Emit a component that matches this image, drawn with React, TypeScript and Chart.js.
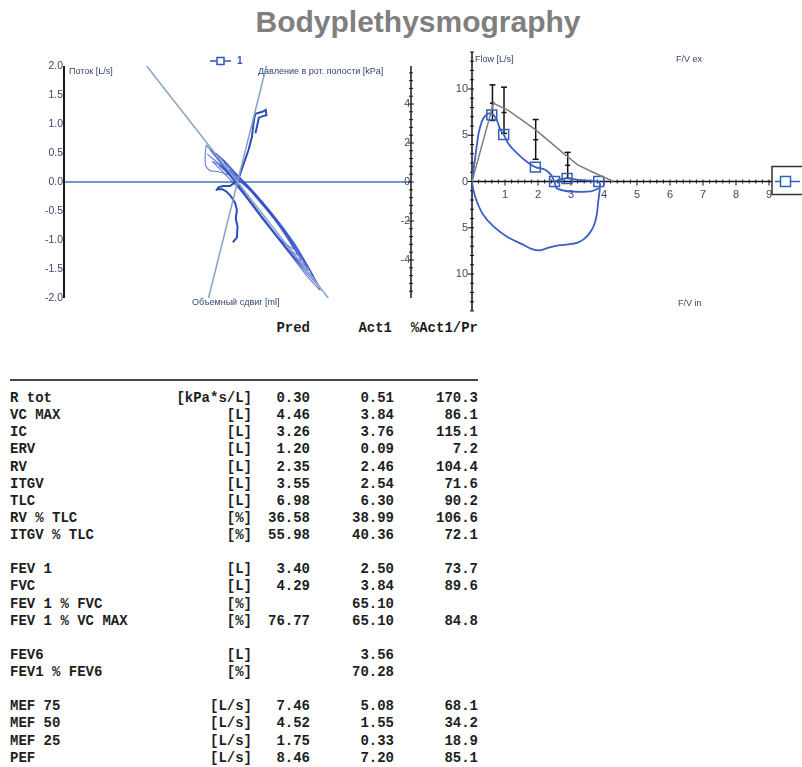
import React, { useEffect, useRef } from 'react';
import { Chart, registerables } from 'chart.js';
Chart.register(...registerables);

// ---------------- Left chart: bodyplethysmography loops ----------------
const flowTicks = [2.0, 1.5, 1.0, 0.5, 0.0, -0.5, -1.0, -1.5, -2.0];
const pressureTicks = [4, 2, 0, -2, -4];
const resistFitX = [-1.57, 1.57];
const resistFitY = [2.0, -2.0];
const shutterFitX = [-0.5, 0.5];
const shutterFitY = [-5.95, 5.95];

// resistance loops: [box shift, flow]
const loop1 = [[-0.54, 0.64], [-0.56, 0.45], [-0.55, 0.28], [-0.48, 0.2], [-0.35, 0.18], [-0.15, 0.12], [0.1, -0.02], [0.5, -0.45], [1.0, -1.08], [1.43, -1.86], [1.2, -1.62], [0.8, -1.1], [0.4, -0.6], [0.1, -0.2], [-0.1, 0.06], [-0.3, 0.34], [-0.54, 0.64]];
const loop2 = [[-0.47, 0.56], [-0.3, 0.42], [-0.1, 0.2], [0.2, -0.08], [0.7, -0.68], [1.2, -1.45], [0.9, -1.22], [0.5, -0.72], [0.15, -0.26], [-0.1, 0.08], [-0.3, 0.34], [-0.47, 0.56]];
const loop3 = [[-0.38, 0.5], [-0.2, 0.34], [0.05, 0.06], [0.45, -0.38], [0.97, -1.15], [0.7, -0.96], [0.35, -0.5], [0.0, -0.04], [-0.2, 0.22], [-0.38, 0.5]];
const loop4 = [[-0.25, 0.38], [0.0, 0.12], [0.35, -0.25], [0.8, -0.8], [1.31, -1.62], [1.0, -1.34], [0.6, -0.84], [0.2, -0.32], [-0.05, 0.02], [-0.25, 0.38]];
const loop5 = [[-0.52, 0.48], [-0.35, 0.34], [-0.1, 0.12], [0.3, -0.22], [0.75, -0.78], [1.1, -1.36], [0.85, -1.14], [0.45, -0.64], [0.1, -0.18], [-0.2, 0.2], [-0.52, 0.48]];
const loop6 = [[-0.32, 0.28], [-0.12, 0.14], [0.2, -0.12], [0.9, -0.98], [1.4, -1.78], [1.1, -1.46], [0.6, -0.82], [0.2, -0.3], [-0.1, 0.08], [-0.32, 0.28]];
const loop7 = [[-0.44, 0.36], [-0.2, 0.22], [0.1, 0.0], [0.6, -0.56], [1.22, -1.52], [0.95, -1.26], [0.5, -0.7], [0.1, -0.2], [-0.2, 0.12], [-0.44, 0.36]];
const loop8 = [[-0.15, 0.22], [0.05, 0.04], [0.4, -0.36], [0.85, -0.9], [1.03, -1.26], [0.75, -1.0], [0.3, -0.44], [0.0, -0.02], [-0.15, 0.22]];

// shutter trace: [box shift, mouth pressure kPa]
const shutterTrace = [[-0.08, -3.09], [-0.01, -2.84], [0.0, -2.29], [-0.03, -1.86], [-0.01, -1.44], [-0.04, -1.09], [-0.07, -0.92], [-0.13, -0.67], [-0.19, -0.5], [-0.26, -0.37], [-0.35, -0.37], [-0.37, -0.45], [-0.33, -0.27], [-0.25, -0.21], [-0.13, -0.21], [0.01, 0.1], [0.07, 0.62], [0.13, 1.13], [0.19, 1.64], [0.25, 2.32], [0.27, 2.84], [0.29, 3.27], [0.31, 3.5], [0.37, 3.55], [0.43, 3.6], [0.49, 3.7], [0.5, 3.42], [0.44, 3.38], [0.37, 3.3], [0.34, 2.9], [0.31, 2.5]];

// ---------------- Right chart: flow / volume ----------------
const volTicks = [1, 2, 3, 4, 5, 6, 7, 8, 9];
const fvFlowTicks = [10, 5, 0, -5, -10];
const predVol = [0, 0.65, 1.1, 1.92, 2.72, 3.2, 3.62, 4.28];
const predFlow = [0, 8.45, 7.7, 5.6, 3.2, 1.8, 1.08, 0];
const expVol = [0, 0.05, 0.1, 0.2, 0.3, 0.4, 0.55, 0.65, 0.75, 0.86, 0.96, 1.1, 1.41, 1.71, 1.92, 2.22, 2.42, 2.5, 2.7, 2.88, 3.22, 3.62, 3.84];
const expFlow = [0, 1.4, 2.7, 5.2, 6.5, 7.1, 7.4, 7.2, 6.65, 5.6, 5.08, 4.1, 2.9, 2.0, 1.55, 1.26, 0.6, 0.02, 0.25, 0.33, 0.18, 0.07, 0];
const closeVol = [2.5, 2.56, 2.8, 3.1, 3.6, 3.85];
const closeFlow = [0.02, -0.7, -1.0, -1.1, -1.07, -0.7];
const inspVol = [3.84, 3.88, 3.86, 3.82, 3.78, 3.7, 3.58, 3.4, 3.2, 2.92, 2.62, 2.32, 2.06, 1.82, 1.55, 1.05, 0.65, 0.34, 0.14, 0.04, 0];
const inspFlow = [0, -0.3, -1.2, -2.3, -3.6, -4.7, -5.5, -6.2, -6.6, -6.8, -6.9, -7.16, -7.45, -7.3, -6.83, -5.94, -4.86, -3.6, -2.1, -0.9, 0];
const markVol = [0.6, 0.96, 1.92, 2.88, 2.5, 3.84];
const markFlow = [7.2, 5.08, 1.55, 0.33, 0.0, 0.0];
const errVol = [0.62, 0.97, 1.93, 2.9];
const errPred = [8.46, 7.46, 4.52, 1.75];
const errLow = [6.6, 5.2, 2.4, 0.35];
const errHigh = [10.45, 10.2, 6.7, 3.15];

// ---------------- Table ----------------
const rowLabels = ['R tot', 'VC MAX', 'IC', 'ERV', 'RV', 'ITGV', 'TLC', 'RV % TLC', 'ITGV % TLC', '', 'FEV 1', 'FVC', 'FEV 1 % FVC', 'FEV 1 % VC MAX', '', 'FEV6', 'FEV1 % FEV6', '', 'MEF 75', 'MEF 50', 'MEF 25', 'PEF'];
const rowUnits = ['[kPa*s/L]', '[L]', '[L]', '[L]', '[L]', '[L]', '[L]', '[%]', '[%]', '', '[L]', '[L]', '[%]', '[%]', '', '[L]', '[%]', '', '[L/s]', '[L/s]', '[L/s]', '[L/s]'];
const predCol = ['0.30', '4.46', '3.26', '1.20', '2.35', '3.55', '6.98', '36.58', '55.98', '', '3.40', '4.29', '', '76.77', '', '', '', '', '7.46', '4.52', '1.75', '8.46'];
const actCol = ['0.51', '3.84', '3.76', '0.09', '2.46', '2.54', '6.30', '38.99', '40.36', '', '2.50', '3.84', '65.10', '65.10', '', '3.56', '70.28', '', '5.08', '1.55', '0.33', '7.20'];
const pctCol = ['170.3', '86.1', '115.1', '7.2', '104.4', '71.6', '90.2', '106.6', '72.1', '', '73.7', '89.6', '', '84.8', '', '', '', '', '68.1', '34.2', '18.9', '85.1'];
const headers = ['Pred', 'Act1', '%Act1/Pr'];

const pairs = (arr: number[][]) => arr.map((p) => ({ x: p[0], y: p[1] }));
const zip = (xs: number[], ys: number[]) => xs.map((x, i) => ({ x, y: ys[i] }));

const LABEL_FONT = '9px "Liberation Sans", Arial, sans-serif';
const TICK_FONT = '10.5px "Liberation Sans", Arial, sans-serif';
const TICK_COLOR = '#3a4868';

function seg(ctx: CanvasRenderingContext2D, x1: number, y1: number, x2: number, y2: number) {
  ctx.beginPath();
  ctx.moveTo(x1, y1);
  ctx.lineTo(x2, y2);
  ctx.stroke();
}

const leftDecor = {
  id: 'leftDecor',
  beforeDatasetsDraw(chart: any) {
    const { ctx, chartArea: ca, scales } = chart;
    const y = scales.y, y2 = scales.y2;
    ctx.save();
    ctx.strokeStyle = '#4174b5';
    ctx.lineWidth = 1.5;
    seg(ctx, ca.left, y.getPixelForValue(0), ca.right, y.getPixelForValue(0));
    ctx.strokeStyle = '#1a1a1a';
    ctx.lineWidth = 2;
    seg(ctx, ca.left, ca.top, ca.left, ca.bottom);
    ctx.font = TICK_FONT;
    ctx.fillStyle = TICK_COLOR;
    ctx.textAlign = 'right';
    ctx.textBaseline = 'middle';
    flowTicks.forEach((v) => ctx.fillText(v.toFixed(1), ca.left - 1, y.getPixelForValue(v)));
    ctx.strokeStyle = '#1a1a1a';
    ctx.lineWidth = 1.5;
    seg(ctx, ca.right, ca.top, ca.right, ca.bottom);
    ctx.lineWidth = 1;
    for (let i = -14; i <= 14; i++) {
      const py = y2.getPixelForValue(i * 0.4);
      const major = i % 5 === 0;
      seg(ctx, ca.right - (major ? 3 : 2), py, ca.right + (major ? 3 : 2), py);
    }
    pressureTicks.forEach((v) => ctx.fillText(String(v), ca.right - 1, y2.getPixelForValue(v)));
    ctx.font = LABEL_FONT;
    ctx.fillStyle = '#34466e';
    ctx.textAlign = 'left';
    ctx.fillText('Поток [L/s]', ca.left + 5, ca.top + 6);
    ctx.fillText('Давление в рот. полости [kPa]', 258, ca.top + 6);
    ctx.fillText('Объемный сдвиг [ml]', 192, ca.bottom + 5);
    const ly = 16;
    ctx.strokeStyle = '#2f55b5';
    ctx.lineWidth = 1.5;
    seg(ctx, 210, ly, 231, ly);
    ctx.fillStyle = '#fff';
    ctx.fillRect(217, ly - 3.5, 7, 7);
    ctx.strokeRect(217, ly - 3.5, 7, 7);
    ctx.fillStyle = '#2f55b5';
    ctx.font = 'bold 10px "Liberation Sans", Arial, sans-serif';
    ctx.fillText('1', 237, ly);
    ctx.restore();
  },
};

const rightDecor = {
  id: 'rightDecor',
  beforeDatasetsDraw(chart: any) {
    const { ctx, chartArea: ca, scales } = chart;
    const x = scales.x, y = scales.y;
    const x0 = x.getPixelForValue(0), y0 = y.getPixelForValue(0);
    ctx.save();
    ctx.strokeStyle = '#111';
    ctx.lineWidth = 1.5;
    seg(ctx, x0, ca.top, x0, ca.bottom);
    seg(ctx, x0, y0, ca.right, y0);
    ctx.lineWidth = 1;
    for (let v = -14; v <= 14; v++) {
      const py = y.getPixelForValue(v);
      const major = v % 5 === 0;
      seg(ctx, x0 - (major ? 4 : 2), py, x0 + 2, py);
    }
    for (let i = 1; i <= 50; i++) {
      const px = x.getPixelForValue(i * 0.2);
      const major = i % 5 === 0;
      seg(ctx, px, y0 - 2, px, y0 + (major ? 4 : 2));
    }
    ctx.font = '11px "Liberation Sans", Arial, sans-serif';
    ctx.fillStyle = TICK_COLOR;
    ctx.textAlign = 'right';
    ctx.textBaseline = 'middle';
    fvFlowTicks.forEach((v) => ctx.fillText(String(Math.abs(v)), x0 - 4, y.getPixelForValue(v)));
    ctx.textAlign = 'center';
    volTicks.forEach((v) => ctx.fillText(String(v), x.getPixelForValue(v), y0 + 13));
    ctx.font = LABEL_FONT;
    ctx.fillStyle = '#34466e';
    ctx.textAlign = 'left';
    ctx.fillText('Flow [L/s]', x0 + 3, 15);
    ctx.fillText('F/V ex', 236, 15);
    ctx.fillText('F/V in', 238, 259);
    ctx.strokeStyle = '#111';
    ctx.lineWidth = 1.5;
    errVol.forEach((v, i) => {
      const px = x.getPixelForValue(v);
      const pl = y.getPixelForValue(errLow[i]);
      const ph = y.getPixelForValue(errHigh[i]);
      const pm = y.getPixelForValue(errPred[i]);
      seg(ctx, px, pl, px, ph);
      seg(ctx, px - 3, pl, px + 3, pl);
      seg(ctx, px - 3, ph, px + 3, ph);
      seg(ctx, px - 2.5, pm, px + 2.5, pm);
    });
    ctx.restore();
  },
  afterDraw(chart: any) {
    const { ctx, chartArea: ca, scales } = chart;
    const y0 = scales.y.getPixelForValue(0);
    ctx.save();
    const bx = ca.right - 30;
    ctx.fillStyle = '#fff';
    ctx.fillRect(bx, y0 - 15, 40, 28);
    ctx.strokeStyle = '#333';
    ctx.lineWidth = 1.5;
    ctx.strokeRect(bx, y0 - 15, 40, 28);
    ctx.strokeStyle = '#2f5fb8';
    seg(ctx, bx + 3, y0, bx + 28, y0);
    ctx.fillRect(bx + 8.5, y0 - 5, 10, 10);
    ctx.strokeRect(bx + 8.5, y0 - 5, 10, 10);
    ctx.restore();
  },
};

function LeftChart() {
  const ref = useRef<HTMLCanvasElement>(null);
  useEffect(() => {
    const loopStyle = { showLine: true, borderColor: 'rgba(55,80,200,0.75)', borderWidth: 1.1, pointRadius: 0, tension: 0.2, yAxisID: 'y' };
    const chart = new Chart(ref.current as HTMLCanvasElement, {
      type: 'scatter',
      data: {
        datasets: [
          { data: zip(resistFitX, resistFitY), showLine: true, borderColor: '#86a2c4', borderWidth: 1.5, pointRadius: 0, yAxisID: 'y' },
          { data: zip(shutterFitX, shutterFitY), showLine: true, borderColor: '#86a2c4', borderWidth: 1.5, pointRadius: 0, yAxisID: 'y2' },
          ...[loop1, loop2, loop3, loop4, loop5, loop6, loop7, loop8].map((l) => ({ ...loopStyle, data: pairs(l) })),
          { data: pairs(shutterTrace), showLine: true, borderColor: '#2c4db4', borderWidth: 2, pointRadius: 0, tension: 0, yAxisID: 'y2' },
        ],
      } as any,
      options: {
        animation: false,
        responsive: false,
        maintainAspectRatio: false,
        events: [],
        layout: { autoPadding: false, padding: { left: 64, right: 29, top: 21, bottom: 17 } },
        plugins: { legend: { display: false }, tooltip: { enabled: false } },
        scales: {
          x: { type: 'linear', min: -3, max: 3, display: false },
          y: { type: 'linear', min: -2, max: 2, display: false },
          y2: { type: 'linear', min: -5.95, max: 5.95, display: false, position: 'right' },
        },
      } as any,
      plugins: [leftDecor],
    });
    return () => chart.destroy();
  }, []);
  return <canvas ref={ref} width={440} height={270} style={{ position: 'absolute', left: 0, top: 45, width: 440, height: 270 }} />;
}

function RightChart() {
  const ref = useRef<HTMLCanvasElement>(null);
  useEffect(() => {
    const blue = { showLine: true, borderColor: '#3b5fc4', borderWidth: 1.8, pointRadius: 0 };
    const chart = new Chart(ref.current as HTMLCanvasElement, {
      type: 'scatter',
      data: {
        datasets: [
          { data: zip(predVol, predFlow), showLine: true, borderColor: '#7d7d7d', borderWidth: 1.5, pointRadius: 0, tension: 0 },
          { ...blue, data: zip(inspVol, inspFlow), tension: 0.35 },
          { ...blue, data: zip(closeVol, closeFlow), tension: 0.3 },
          { ...blue, data: zip(expVol, expFlow), cubicInterpolationMode: 'monotone' },
          { data: zip(markVol, markFlow), showLine: false, pointStyle: 'rect', pointRadius: 7, borderColor: '#2f5fb8', borderWidth: 1.5, backgroundColor: 'rgba(255,255,255,0)' },
        ],
      } as any,
      options: {
        animation: false,
        responsive: false,
        maintainAspectRatio: false,
        events: [],
        layout: { autoPadding: false, padding: { left: 32, right: 0, top: 7, bottom: 4 } },
        plugins: { legend: { display: false }, tooltip: { enabled: false } },
        scales: {
          x: { type: 'linear', min: 0, max: 10, display: false },
          y: { type: 'linear', min: -14, max: 14, display: false },
        },
      } as any,
      plugins: [rightDecor],
    });
    return () => chart.destroy();
  }, []);
  return <canvas ref={ref} width={362} height={270} style={{ position: 'absolute', left: 440, top: 45, width: 362, height: 270 }} />;
}

const ROW_H = 17.14;
const cell = (right: number): React.CSSProperties => ({ position: 'absolute', left: right - 140, width: 140, textAlign: 'right', whiteSpace: 'pre' });

function Table() {
  const font = 'bold 14px "Liberation Mono", "Courier New", monospace';
  return (
    <>
      <div style={{ position: 'absolute', left: 0, top: 320, width: 490, height: ROW_H, lineHeight: ROW_H + 'px', font, color: '#1e1e1e' }}>
        <span style={cell(310)}>{headers[0]}</span>
        <span style={cell(392)}>{headers[1]}</span>
        <span style={cell(478)}>{headers[2]}</span>
      </div>
      <div style={{ position: 'absolute', left: 10, top: 379, width: 468, height: 2, background: '#4a4a4a' }} />
      <div style={{ position: 'absolute', left: 0, top: 390, width: 490, font, color: '#1e1e1e' }}>
        {rowLabels.map((lab, i) => (
          <div key={i} style={{ position: 'relative', height: ROW_H, lineHeight: ROW_H + 'px' }}>
            <span style={{ position: 'absolute', left: 10, whiteSpace: 'pre' }}>{lab}</span>
            <span style={cell(252)}>{rowUnits[i]}</span>
            <span style={cell(310)}>{predCol[i]}</span>
            <span style={cell(394)}>{actCol[i]}</span>
            <span style={cell(478)}>{pctCol[i]}</span>
          </div>
        ))}
      </div>
    </>
  );
}

export default function App() {
  return (
    <div style={{ position: 'absolute', left: 0, top: 0, width: 802, height: 767, overflow: 'hidden', background: '#fff' }}>
      <div style={{ position: 'absolute', left: 0, top: 7, width: 836, textAlign: 'center', font: 'bold 30px "Liberation Sans", Arial, sans-serif', lineHeight: '30px', color: '#7f7f7f' }}>
        Bodyplethysmography
      </div>
      <LeftChart />
      <RightChart />
      <Table />
    </div>
  );
}
